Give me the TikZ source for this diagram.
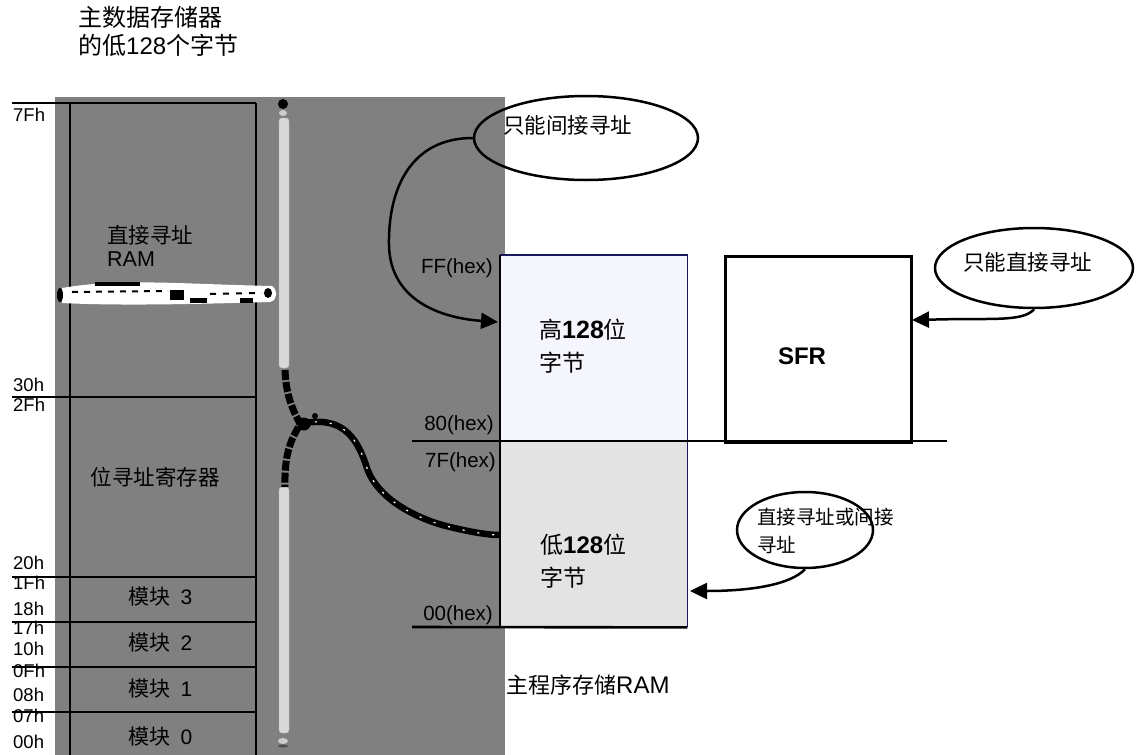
\documentclass[tikz,border=0pt]{standalone}
\usepackage{fontspec}
\setmainfont{Liberation Sans}
\newfontfamily\cjk{Noto Sans CJK SC}
\usetikzlibrary{arrows.meta,shapes.geometric}
\newcommand\zh[1]{{\cjk #1}}
\newcommand\myfs[2]{\fontsize{#1}{#2}\selectfont}
\definecolor{bggray}{HTML}{808080}
\definecolor{hifill}{HTML}{F5F6FD}
\definecolor{lofill}{HTML}{E3E3E3}
\definecolor{barfill}{HTML}{D9D9D9}
\definecolor{navy}{HTML}{1A1A5A}
\begin{document}
\begin{tikzpicture}[x=1pt,y=-1pt,
  lbl/.style={anchor=west,inner sep=0pt,font=\myfs{18.5}{20}},
  hexl/.style={anchor=east,inner sep=0pt,font=\myfs{20.5}{22}},
  cjkt/.style={inner sep=0pt,font=\cjk\myfs{21.5}{24}},
  boxtxt/.style={anchor=west,inner sep=0pt,align=left,font=\myfs{23}{33}},
  bubble/.style={draw,ellipse,line width=2.5pt,inner sep=0pt},
  conn/.style={line width=2.5pt,-{Triangle[length=17pt,width=16pt]}},
  wall/.style={line width=2.6pt},
  blob/.style={line width=7pt,dash pattern=on 10pt off 2pt},
]
\useasboundingbox (0,0) rectangle (1141,755);
% gray background
\fill[bggray] (55,97) rectangle (505,755);

% title
\node[anchor=west,inner sep=0pt,align=left,font=\myfs{24}{28}] (title) at (78,31) {\zh{主数据存储器}\\\zh{的低}128\zh{个字节}};

% left column texts
\node[anchor=west,inner sep=0pt,align=left,font=\myfs{21.5}{23}] (dram) at (107,246) {\zh{直接寻址}\\RAM};
\node[cjkt] (bitreg) at (155,477) {位寻址寄存器};
\node[anchor=west,inner sep=0pt,font=\myfs{21}{24}] (b3) at (128,597) {\zh{模块}\hspace{0.5em}3};
\node[anchor=west,inner sep=0pt,font=\myfs{21}{24}] (b2) at (128,643) {\zh{模块}\hspace{0.5em}2};
\node[anchor=west,inner sep=0pt,font=\myfs{21}{24}] (b1) at (128,689) {\zh{模块}\hspace{0.5em}1};
\node[anchor=west,inner sep=0pt,font=\myfs{21}{24}] (b0) at (128,737) {\zh{模块}\hspace{0.5em}0};

% address labels
\node[lbl] (l7f) at (13,115) {7Fh};
\node[lbl] (l30) at (13,385) {30h};
\node[lbl] (l2f) at (13,405) {2Fh};
\node[lbl] (l20) at (13,563) {20h};
\node[lbl] (l1f) at (13,583) {1Fh};
\node[lbl] (l18) at (13,609) {18h};
\node[lbl] (l17) at (13,628) {17h};
\node[lbl] (l10) at (13,649) {10h};
\node[lbl] (l0f) at (13,671) {0Fh};
\node[lbl] (l08) at (13,695) {08h};
\node[lbl] (l07) at (13,716) {07h};
\node[lbl] (l00) at (13,742) {00h};

% left column lines
\draw[wall] (12,103) -- (256,103);
\draw[wall] (70,103) -- (70,755);
\draw[wall] (256,103) -- (256,755);
\foreach \yy in {397,577,622,667,712} \draw[wall] (12,\yy) -- (256,\yy);

% scribbled band
\fill[white] (62,288) .. controls (120,278) and (180,284) .. (272,286) .. controls (278,290) and (278,300) .. (270,302)
  .. controls (200,304) and (120,306) .. (62,303) -- cycle;
\fill[black] (95,282) rectangle (140,286);
\fill[black] (170,290) rectangle (184,300);
\fill[black] (190,298) rectangle (207,303);
\fill[black] (240,298) rectangle (253,303);
\draw[black,line width=2pt,dash pattern=on 6pt off 6pt] (72,292) -- (168,291);
\draw[black,line width=2pt,dash pattern=on 6pt off 7pt] (210,294) -- (262,293);
\fill[black] (60,295) ellipse (3pt and 7pt);
\fill[black] (268,293) ellipse (4pt and 5pt);

% vertical light bar
\draw[barfill!85!black,fill=barfill,rounded corners=3pt] (279,118) rectangle (289,368);
\draw[barfill!85!black,fill=barfill,rounded corners=3pt] (279,487) rectangle (289,733);
\fill[black] (283,104) ellipse (5pt and 5pt);
\fill[gray!40] (283,113) ellipse (4pt and 3pt);
\fill[gray!40] (283,741) ellipse (5pt and 3pt);
\fill[black!70] (283,746) ellipse (5pt and 1.5pt);

% scribbled branch
\coordinate (fork) at (300,424);
\draw[blob] (285,370) .. controls (286,400) and (296,415) .. (fork) .. controls (294,436) and (284,448) .. (285,487);

% right side boxes
\node[fill=hifill,minimum width=187pt,minimum height=186pt,inner sep=0pt,anchor=north west] (hi) at (500,255) {};
\node[fill=lofill,minimum width=187pt,minimum height=186pt,inner sep=0pt,anchor=north west] (lo) at (500,441) {};
\node[draw,fill=white,wall,minimum width=186pt,minimum height=186pt,inner sep=0pt,anchor=north west] (sfr) at (724,255) {};
\node[inner sep=0pt,font=\bfseries\myfs{24}{26}] (sfrt) at (802,356) {SFR};
\draw[navy,line width=1.3pt] (hi.north west) -- (hi.north east) -- (hi.south east);
\draw[navy,line width=1.3pt] (lo.north east) -- (lo.south east);
\draw[wall] (hi.north west) -- (lo.south west);
\draw[wall] (412,441) -- (947,441);
\draw[wall] (412,627) -- (lo.south east);

\node[boxtxt] (hit) at (539,346) {\zh{高}\textbf{\myfs{25}{33}128}\zh{位}\\\zh{字节}};
\node[boxtxt] (lot) at (540,561) {\zh{低}\textbf{\myfs{24}{33}128}\zh{位}\\\zh{字节}};

\node[hexl] (ff) at (493,268) {FF(hex)};
\node[hexl] (h80) at (494,425) {80(hex)};
\node[hexl] (h7f) at (496,462) {7F(hex)};
\node[hexl] (h00) at (493,615) {00(hex)};

\node[anchor=west,inner sep=0pt,font=\myfs{24}{26}] (mainram) at (506,685) {{\cjk\myfs{22}{26}主程序存储}RAM};

% scribbled curve to low box
\draw[line width=6.5pt] (fork) .. controls (340,415) and (356,435) .. (366,465) .. controls (376,500) and (420,520) .. (450,527) .. controls (475,533) and (490,535) .. (lo.west |- 0,535);
\draw[white,line width=1.2pt,dash pattern=on 2pt off 13pt] (fork) .. controls (340,415) and (356,435) .. (366,465) .. controls (376,500) and (420,520) .. (450,527) .. controls (475,533) and (490,535) .. (lo.west |- 0,535);
\fill[black] (304,424) circle (6.5pt);
\fill[black] (315,416) circle (3pt);

% ellipses
\node[bubble,minimum width=224pt,minimum height=84pt] (e1) at (586,138) {};
\node[anchor=west,inner sep=0pt,font=\cjk\myfs{21.5}{24}] (e1t) at (503,125) {只能间接寻址};
\node[bubble,fill=white,minimum width=198pt,minimum height=80pt] (e2) at (1034,268) {};
\node[anchor=west,inner sep=0pt,font=\cjk\myfs{21.5}{24}] (e2t) at (963,262) {只能直接寻址};
\node[bubble,fill=white,minimum width=136pt,minimum height=76pt] (e3) at (805,530) {};
\node[anchor=west,inner sep=0pt,align=left,font=\cjk\myfs{19.5}{28}] (e3t) at (757,531) {直接寻址或间接\\寻址};

% arrows
\coordinate (t1) at (498,322);
\coordinate (t2) at (912,320);
\coordinate (t3) at (690,591);
\draw[conn] (e1.west) .. controls (410,138) and (388,190) .. (389,245) .. controls (390,300) and (440,318) .. (t1);
\draw[conn] (e2.south) .. controls (1025,320) and (1000,319) .. (960,319) -- (t2);
\draw[conn] (e3.south) .. controls (790,585) and (750,591) .. (t3);
\end{tikzpicture}
\end{document}
